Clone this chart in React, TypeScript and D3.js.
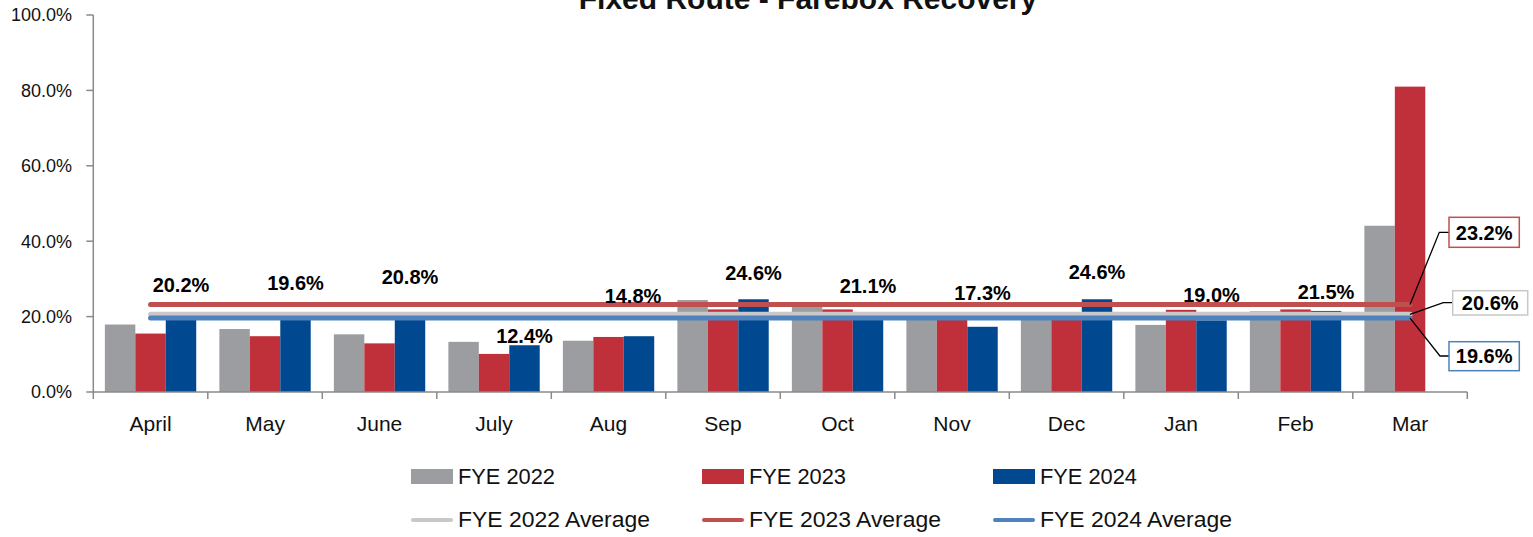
import React from "react";
import * as d3 from "d3";

// months on the x axis
const months = ["April", "May", "June", "July", "Aug", "Sep", "Oct", "Nov", "Dec", "Jan", "Feb", "Mar"];

// farebox recovery, percent
const fye2022 = [17.9, 16.7, 15.3, 13.3, 13.6, 24.4, 22.6, 20.0, 21.2, 17.8, 21.4, 44.1];
const fye2023 = [15.5, 14.8, 12.9, 10.1, 14.6, 21.9, 21.9, 20.8, 21.2, 21.8, 21.9, 81.0];
const fye2024 = [20.2, 19.6, 20.8, 12.4, 14.8, 24.6, 21.1, 17.3, 24.6, 19.0, 21.5, null];

const averages = [20.6, 23.2, 19.6];
const seriesNames = ["FYE 2022", "FYE 2023", "FYE 2024"];
const yTicks = [0, 20, 40, 60, 80, 100];

// where the FYE 2024 value labels sit (in % units of the y axis)
const labelAt = [28.4, 29.0, 30.6, 14.9, 25.5, 31.6, 28.1, 26.3, 31.8, 25.9, 26.6, null];

const barColors = ["#9c9da1", "#c0303b", "#004990"];
const avgColors = ["#c8c8c8", "#c0504d", "#4f81bd"];
const FONT = "'Liberation Sans', Arial, sans-serif";

export default function App() {
  const W = 1533;
  const H = 537;
  const x0 = 93.3;
  const x1 = 1467.3;
  const yBase = 392;
  const yTop = 15;

  const x = d3.scaleBand<string>().domain(months).range([x0, x1]).paddingInner(0).paddingOuter(0);
  const inner = d3
    .scaleBand<number>()
    .domain([0, 1, 2])
    .range([0, x.bandwidth()])
    .paddingOuter(0.38)
    .paddingInner(0);
  const y = d3.scaleLinear().domain([0, 100]).range([yBase, yTop]);

  const series = [fye2022, fye2023, fye2024];
  const center = (m: string) => (x(m) as number) + x.bandwidth() / 2;
  const lineStart = center(months[0]);
  const lineEnd = center(months[months.length - 1]);

  // callout boxes for the average lines
  const callouts = [
    { i: 1, box: [1449, 217.3, 70.3, 30], knee: [1439.3, 232.3] },
    { i: 0, box: [1452.7, 290.7, 75, 24.3], knee: [1443.3, 302.7] },
    { i: 2, box: [1449, 341.7, 70.3, 29], knee: [1440, 356] },
  ];

  const legendCols = [411, 702, 993];

  return (
    <svg
      width={W}
      height={H}
      style={{ position: "absolute", left: 0, top: 0, background: "#fff" }}
      fontFamily={FONT}
    >
      <text x={808} y={9} textAnchor="middle" fontSize={30} fontWeight="bold" fill="#111">
        Fixed Route - Farebox Recovery
      </text>

      {/* bars */}
      {series.map((vals, si) =>
        vals.map((v, mi) =>
          v == null ? null : (
            <rect
              key={`b${si}-${mi}`}
              x={(x(months[mi]) as number) + (inner(si) as number)}
              y={y(v)}
              width={inner.bandwidth()}
              height={yBase - y(v)}
              fill={barColors[si]}
            />
          )
        )
      )}

      {/* average lines */}
      {[0, 2, 1].map((si) => (
        <line
          key={`a${si}`}
          x1={lineStart}
          x2={lineEnd}
          y1={y(averages[si])}
          y2={y(averages[si])}
          stroke={avgColors[si]}
          strokeWidth={5}
          strokeLinecap="round"
        />
      ))}

      {/* FYE 2024 labels */}
      {fye2024.map((v, mi) =>
        v == null || labelAt[mi] == null ? null : (
          <text
            key={`l${mi}`}
            x={(x(months[mi]) as number) + (inner(2) as number) + inner.bandwidth() / 2 - (mi === 4 ? 6 : 0)}
            y={y(labelAt[mi] as number)}
            dy="0.36em"
            textAnchor="middle"
            fontSize={20}
            fontWeight="bold"
            fill="#000"
          >
            {v.toFixed(1)}%
          </text>
        )
      )}

      {/* y axis */}
      <line x1={x0} x2={x0} y1={yTop} y2={yBase} stroke="#8a8a8a" strokeWidth={1.5} />
      {yTicks.map((t) => (
        <g key={`y${t}`}>
          <line x1={x0 - 7} x2={x0} y1={y(t)} y2={y(t)} stroke="#8a8a8a" strokeWidth={1.5} />
          <text x={72} y={y(t)} dy="0.36em" textAnchor="end" fontSize={18} fill="#111">
            {t.toFixed(1)}%
          </text>
        </g>
      ))}

      {/* x axis */}
      <line x1={x0} x2={x1} y1={yBase} y2={yBase} stroke="#8a8a8a" strokeWidth={1.5} />
      {months.map((m) => (
        <g key={`x${m}`}>
          <line x1={x(m)} x2={x(m)} y1={yBase} y2={yBase + 7} stroke="#8a8a8a" strokeWidth={1.5} />
          <text x={center(m)} y={431} textAnchor="middle" fontSize={21} fill="#111">
            {m}
          </text>
        </g>
      ))}
      <line x1={x1} x2={x1} y1={yBase} y2={yBase + 7} stroke="#8a8a8a" strokeWidth={1.5} />

      {/* callouts */}
      {callouts.map((c) => {
        const ly = y(averages[c.i]);
        const [bx, by, bw, bh] = c.box;
        return (
          <g key={`c${c.i}`}>
            <polyline
              points={`${lineEnd},${ly} ${c.knee[0]},${c.knee[1]} ${bx},${c.knee[1]}`}
              fill="none"
              stroke="#000"
              strokeWidth={1.3}
            />
            <rect x={bx} y={by} width={bw} height={bh} fill="#fff" stroke={avgColors[c.i]} strokeWidth={1.5} />
            <text
              x={bx + bw / 2}
              y={by + bh / 2}
              dy="0.36em"
              textAnchor="middle"
              fontSize={20}
              fontWeight="bold"
              fill="#000"
            >
              {averages[c.i].toFixed(1)}%
            </text>
          </g>
        );
      })}

      {/* legend */}
      {seriesNames.map((name, si) => (
        <g key={`lg${si}`}>
          <rect x={legendCols[si]} y={469} width={42} height={15} fill={barColors[si]} />
          <text
            x={legendCols[si] + 47}
            y={484}
            fontSize={21.5}
            fill="#111"
            textLength={97}
            lengthAdjust="spacingAndGlyphs"
          >
            {name}
          </text>
          <line
            x1={legendCols[si] + 2}
            x2={legendCols[si] + 40}
            y1={520}
            y2={520}
            stroke={avgColors[si]}
            strokeWidth={4}
            strokeLinecap="round"
          />
          <text
            x={legendCols[si] + 47}
            y={527}
            fontSize={21.5}
            fill="#111"
            textLength={192}
            lengthAdjust="spacingAndGlyphs"
          >
            {name} Average
          </text>
        </g>
      ))}
    </svg>
  );
}
